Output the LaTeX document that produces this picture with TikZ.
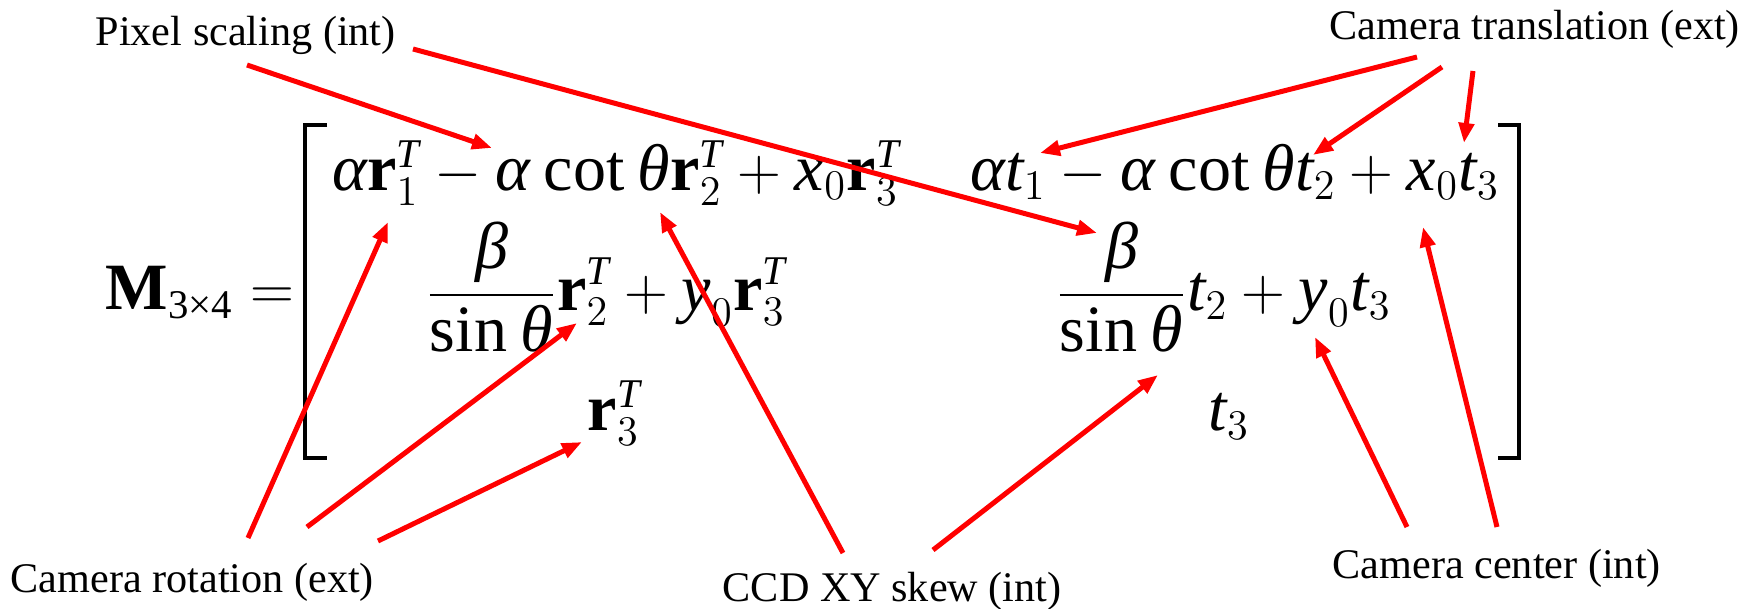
\documentclass[tikz,border=0pt]{standalone}
\usepackage{amsmath}
\usepackage{fontspec}
\setmainfont{Liberation Serif}
\usetikzlibrary{arrows.meta}
\DeclareMathSizes{18.8}{18.8}{11.6}{8}
\newcommand{\mi}[1]{\text{\itshape #1}}
\newcommand{\mb}[1]{\text{\bfseries #1}}
\newcommand{\fn}[1]{\mskip4mu\text{#1}\mskip4mu}
\tikzset{
  lbl/.style={anchor=base west,inner sep=0pt,font=\fontsize{12}{14}\selectfont},
  eq/.style={anchor=base west,inner sep=0pt,font=\fontsize{18.8}{22}\selectfont},
  pointer/.style={-{Triangle[length=0.2cm,width=0.15cm]},draw=red,line width=0.05cm},
  brack/.style={draw=black,line width=0.035cm}
}

\begin{document}
\begin{tikzpicture}[x=0.01cm,y=-0.01cm]
  \useasboundingbox (0,0) rectangle (1762,609);

  % the matrix
  \node[eq] (lhs) at (105,309) {$\mb{M}_{\text{3×4}}=$};
  \node[eq] (r1l) at (332,190) {$\mi{α}\mb{r}_1^{\mi{T}}-\mi{α}\fn{cot}\mi{θ}\mb{r}_2^{\mi{T}}+\mi{x}_0\mb{r}_3^{\mi{T}}$};
  \node[eq] (r1r) at (970,190) {$\mi{α}\mi{t}_1-\mi{α}\fn{cot}\mi{θ}\mi{t}_2+\mi{x}_0\mi{t}_3$};
  \node[eq] (r2l) at (425,310) {$\displaystyle\frac{\mi{β}}{\text{sin}\mskip4mu\mi{θ}}\mb{r}_2^{\mi{T}}+\mi{y}_0\mb{r}_3^{\mi{T}}$};
  \node[eq] (r2r) at (1055,310) {$\displaystyle\frac{\mi{β}}{\text{sin}\mskip4mu\mi{θ}}\mi{t}_2+\mi{y}_0\mi{t}_3$};
  \node[eq] (r3l) at (587,430) {$\mb{r}_3^{\mi{T}}$};
  \node[eq] (r3r) at (1208,430) {$\mi{t}_3$};
  \draw[brack] (327,125) -- (305,125) -- (305,458) -- (327,458);
  \draw[brack] (1498,125) -- (1519,125) -- (1519,458) -- (1498,458);

  % labels
  \node[lbl] (pixel) at (95,45) {Pixel scaling (int)};
  \node[lbl] (trans) at (1329,40) {Camera translation (ext)};
  \node[lbl] (rot) at (10,592) {Camera rotation (ext)};
  \node[lbl] (skew) at (722,601) {CCD XY skew (int)};
  \node[lbl] (center) at (1332,578) {Camera center (int)};

  % arrow ends
  \coordinate (pixA) at (247,65);   \coordinate (pixAt) at (492,148);
  \coordinate (pixB) at (413,49);   \coordinate (pixBt) at (1097,233);
  \coordinate (trA) at (1417,57);   \coordinate (trAt) at (1040,153);
  \coordinate (trB) at (1442,67);   \coordinate (trBt) at (1313,155);
  \coordinate (trC) at (1473,71);   \coordinate (trCt) at (1464,143);
  \coordinate (rotA) at (248,538);  \coordinate (rotAt) at (388,222);
  \coordinate (rotB) at (307,527);  \coordinate (rotBt) at (577,323);
  \coordinate (rotC) at (378,541);  \coordinate (rotCt) at (582,442);
  \coordinate (skA) at (843,553);   \coordinate (skAt) at (660,212);
  \coordinate (skB) at (933,550);   \coordinate (skBt) at (1158,375);
  \coordinate (ctA) at (1407,527);  \coordinate (ctAt) at (1315,337);
  \coordinate (ctB) at (1497,527);  \coordinate (ctBt) at (1423,227);

  \draw[pointer] (pixA) -- (pixAt);
  \draw[pointer] (pixB) -- (pixBt);
  \draw[pointer] (trA) -- (trAt);
  \draw[pointer] (trB) -- (trBt);
  \draw[pointer] (trC) -- (trCt);
  \draw[pointer] (rotA) -- (rotAt);
  \draw[pointer] (rotB) -- (rotBt);
  \draw[pointer] (rotC) -- (rotCt);
  \draw[pointer] (skA) -- (skAt);
  \draw[pointer] (skB) -- (skBt);
  \draw[pointer] (ctA) -- (ctAt);
  \draw[pointer] (ctB) -- (ctBt);
\end{tikzpicture}
\end{document}
